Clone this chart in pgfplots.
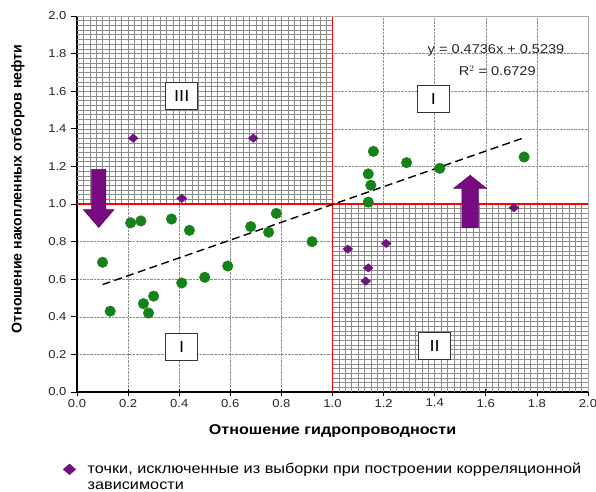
\documentclass[border=0pt]{standalone}
\usepackage{pgfplots}
\pgfplotsset{compat=1.18}
\usepackage{fontspec}
\setmainfont{Liberation Sans}[FakeStretch=1.14]
\newfontfamily\yfont{Liberation Sans}
\usetikzlibrary{calc}
\definecolor{ptgreen}{RGB}{20,130,24}
\definecolor{ptpurple}{RGB}{110,20,125}
\definecolor{arrpurple}{RGB}{120,10,130}
\tikzset{hatch/.style={black!45, line width=0.5pt}}
\pgfdeclareplotmark{wdiamond*}{%
  \pgfpathmoveto{\pgfqpoint{0pt}{0.85\pgfplotmarksize}}%
  \pgfpathlineto{\pgfqpoint{\pgfplotmarksize}{0pt}}%
  \pgfpathlineto{\pgfqpoint{0pt}{-0.85\pgfplotmarksize}}%
  \pgfpathlineto{\pgfqpoint{-\pgfplotmarksize}{0pt}}%
  \pgfpathclose\pgfusepathqfillstroke}
\begin{document}
\begin{tikzpicture}
\begin{axis}[
  scale only axis, width=511bp, height=376bp,
  xmin=0, xmax=2, ymin=0, ymax=2,
  xtick={0,0.2,0.4,0.6,0.8,1.0,1.2,1.4,1.6,1.8,2.0},
  ytick={0,0.2,0.4,0.6,0.8,1.0,1.2,1.4,1.6,1.8,2.0},
  /pgf/number format/.cd, fixed, fixed zerofill, precision=1, assume math mode=true, /pgfplots/.cd,
  ticklabel style={font=\fontsize{11.5}{13}\selectfont, black!85},
  axis x line*=bottom, axis y line*=left,
  axis line style={black, line width=1.3pt, -},
  major tick length=7bp,
  x tick style={black, line width=0.8pt},
  y tick style={black, line width=0.8pt, xshift=1bp},
  xtick align=center, ytick align=outside,
  grid=major,
  major grid style={densely dotted, black!45, line width=0.6pt},
  xlabel={Отношение гидропроводности},
  ylabel={\yfont Отношение накопленных отборов нефти},
  label style={font=\bfseries\fontsize{14.2}{16}\selectfont},
  xlabel style={at={(axis description cs:0.5,-0.103)}, anchor=center},
  ylabel style={at={(axis description cs:-0.1155,0.54)}, anchor=center},
  legend style={at={(axis description cs:-0.035,-0.178)}, anchor=north west, draw=none, fill=none,
    font=\fontsize{14.3}{15.5}\selectfont, cells={align=left}},
  legend cell align=left,
  legend image code/.code={\draw[#1, mark size=6.3bp] plot coordinates {(0bp,7.5bp)}; \path (-7bp,0bp) (16bp,0bp);},
  clip=false,
]
% hatched quadrants
\pgfplotsinvokeforeach{0.025,0.05,...,0.98}{
  \draw[hatch] (axis cs:#1,1) -- (axis cs:#1,2);
}
\pgfplotsinvokeforeach{1.025,1.05,...,1.98}{
  \draw[hatch] (axis cs:0,#1) -- (axis cs:1,#1);
}
\pgfplotsinvokeforeach{1.025,1.05,...,1.98}{
  \draw[hatch] (axis cs:#1,0) -- (axis cs:#1,1);
}
\pgfplotsinvokeforeach{0.025,0.05,...,0.98}{
  \draw[hatch] (axis cs:1,#1) -- (axis cs:2,#1);
}
% red lines
\addplot[forget plot, red, line width=1.3pt] coordinates {(1,0) (1,2)};
\addplot[forget plot, red, line width=1.3pt] coordinates {(0,1) (2,1)};
% trend line
\addplot[forget plot, black, line width=1.4pt, dash pattern=on 8pt off 4.5pt] coordinates {(0.1,0.5713) (1.75,1.3527)};
% included points
\addplot[forget plot, only marks, mark=*, mark size=5.3bp, ptgreen, mark options={draw=ptgreen, fill=ptgreen}] coordinates {
(0.10,0.69) (0.13,0.43) (0.21,0.90) (0.25,0.91) (0.37,0.92) (0.44,0.86)
(0.26,0.47) (0.28,0.42) (0.30,0.51) (0.41,0.58) (0.50,0.61) (0.59,0.67)
(0.68,0.88) (0.75,0.85) (0.78,0.95) (0.92,0.80)
(1.14,1.01) (1.15,1.10) (1.14,1.16) (1.16,1.28) (1.29,1.22) (1.42,1.19) (1.75,1.25)
};
% excluded points
\addplot[only marks, mark=wdiamond*, mark size=5bp, ptpurple, mark options={draw=ptpurple, fill=ptpurple}] coordinates {
(0.22,1.35) (0.69,1.35) (0.41,1.03)
(1.06,0.76) (1.21,0.79) (1.14,0.66) (1.13,0.59) (1.71,0.98)
};
\addlegendentry{точки, исключенные из выборки при построении корреляционной\\зависимости}
% arrows
\addplot[forget plot, fill=arrpurple, draw=arrpurple!70!black, line width=0.5pt] coordinates {
(0.057,1.184) (0.113,1.184) (0.113,0.97) (0.145,0.97) (0.085,0.875) (0.025,0.97) (0.057,0.97) (0.057,1.184)
} --cycle;
\addplot[forget plot, fill=arrpurple, draw=arrpurple!70!black, line width=0.5pt] coordinates {
(1.506,0.873) (1.571,0.873) (1.571,1.083) (1.603,1.083) (1.539,1.153) (1.474,1.083) (1.506,1.083) (1.506,0.873)
} --cycle;
% region labels
\node[draw=black!80, fill=white, line width=0.6pt, minimum width=32bp, minimum height=27bp, inner sep=0pt, font=\fontsize{16}{16}\selectfont] at (axis cs:0.41,1.575) {III};
\node[draw=black!80, fill=white, line width=0.6pt, minimum width=32bp, minimum height=27bp, inner sep=0pt, font=\fontsize{16}{16}\selectfont] at (axis cs:1.395,1.56) {I};
\node[draw=black!80, fill=white, line width=0.6pt, minimum width=32bp, minimum height=27bp, inner sep=0pt, font=\fontsize{16}{16}\selectfont] at (axis cs:0.41,0.24) {I};
\node[draw=black!80, fill=white, line width=0.6pt, minimum width=32bp, minimum height=27bp, inner sep=0pt, font=\fontsize{16}{16}\selectfont] at (axis cs:1.40,0.245) {II};
% equation
\node[font=\fontsize{12.8}{14}\selectfont, black!85] at (axis cs:1.64,1.815) {y = 0.4736x + 0.5239};
\node[font=\fontsize{12.8}{14}\selectfont, black!85] at (axis cs:1.645,1.708) {R$^{2}$ = 0.6729};
% border
\draw[black!35, line width=0.6pt] (rel axis cs:0,1) -- (rel axis cs:1,1) -- (rel axis cs:1,0);
\coordinate (sw) at (rel axis cs:0,0);
\coordinate (ne) at (rel axis cs:1,1);
\end{axis}
\pgfresetboundingbox
\path[use as bounding box] ($(sw)+(-77bp,-100bp)$) rectangle ($(ne)+(8bp,16bp)$);
\end{tikzpicture}
\end{document}
